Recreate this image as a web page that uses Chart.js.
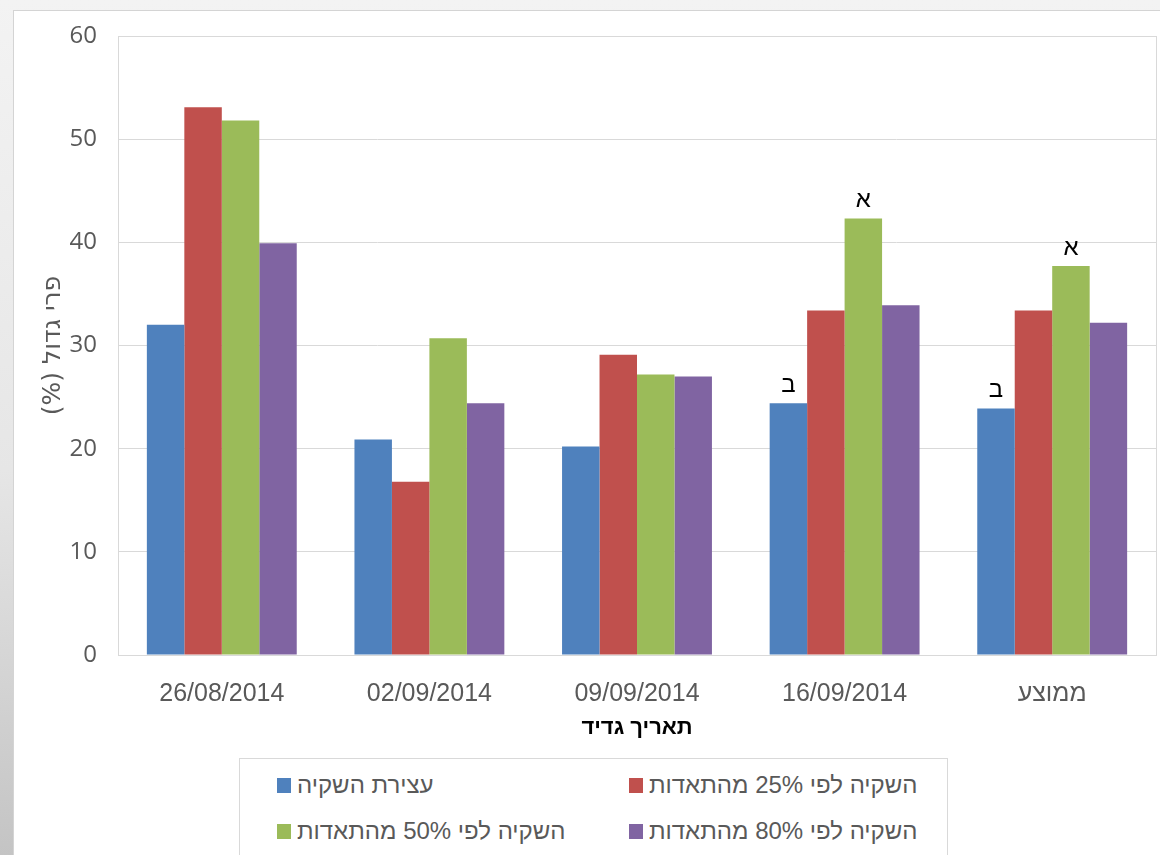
<!DOCTYPE html>
<html lang="he">
<head>
<meta charset="utf-8">
<script src="https://cdn.jsdelivr.net/npm/chart.js@4.4.1/dist/chart.umd.min.js"></script>
<style>
  html, body { margin: 0; padding: 0; }
  body {
    width: 1160px; height: 855px; overflow: hidden; position: relative;
    background: linear-gradient(to bottom, #f3f3f3 0%, #e6e6e6 55%, #c4c4c4 100%);
  }
  #frame {
    position: absolute; left: 13px; top: 10px; width: 1147px; height: 845px;
    background: #fff; border-left: 1px solid #d4d4d4; border-top: 1px solid #d4d4d4;
    box-sizing: border-box;
  }
  #frame canvas { position: absolute; left: 0; top: 0; }
  #legend {
    position: absolute; left: 225px; top: 747px; width: 709px; height: 120px;
    border: 1px solid #d9d9d9; box-sizing: border-box; background: #fff;
    font-family: 'Liberation Sans', Arial, sans-serif; font-size: 24px; color: #595959;
  }
  .item { position: absolute; display: flex; align-items: center; white-space: nowrap; }
  .item .sw { width: 14px; height: 15px; margin-right: 6px; flex: none; }
</style>
</head>
<body>
<div id="frame">
  <canvas id="c" dir="rtl"></canvas>
  <div id="legend"></div>
</div>
<script>
Chart.defaults.color = '#595959';

const CATEGORIES = ['26/08/2014', '02/09/2014', '09/09/2014', '16/09/2014', 'ממוצע'];

const STOP      = [32.0, 20.9, 20.2, 24.4, 23.9];
const EVAP_25   = [53.1, 16.8, 29.1, 33.4, 33.4];
const EVAP_50   = [51.8, 30.7, 27.2, 42.3, 37.7];
const EVAP_80   = [39.9, 24.4, 27.0, 33.9, 32.2];

// אותיות מובהקות מעל העמודות
const STOP_MARKS    = ['', '', '', 'ב', 'ב'];
const EVAP_50_MARKS = ['', '', '', 'א', 'א'];

const Y_TICKS = [0, 10, 20, 30, 40, 50, 60];

const COLORS = {
  blue:   '#4F81BD',
  red:    '#C0504D',
  green:  '#9BBB59',
  purple: '#8064A2',
  grid:   '#d9d9d9',
};

const marksPlugin = {
  id: 'marks',
  afterDatasetsDraw(chart) {
    const ctx = chart.ctx;
    ctx.save();
    ctx.font = "24px 'Liberation Sans', Arial, sans-serif";
    ctx.fillStyle = '#000';
    ctx.textAlign = 'center';
    ctx.textBaseline = 'bottom';
    chart.data.datasets.forEach((ds, di) => {
      if (!ds.marks) return;
      const meta = chart.getDatasetMeta(di);
      ds.marks.forEach((m, i) => {
        if (!m) return;
        const bar = meta.data[i];
        ctx.fillText(m, bar.x, bar.y - 6);
      });
    });
    ctx.restore();
  },
};

const framePlugin = {
  id: 'frame',
  afterDraw(chart) {
    const { ctx, chartArea: a } = chart;
    ctx.save();
    ctx.strokeStyle = COLORS.grid;
    ctx.lineWidth = 1;
    ctx.strokeRect(Math.round(a.left) + 0.5, Math.round(a.top) + 0.5,
      Math.round(a.right - a.left), Math.round(a.bottom - a.top));
    ctx.restore();
  },
};

const chart = new Chart(document.getElementById('c'), {
  type: 'bar',
  data: {
    labels: CATEGORIES,
    datasets: [
      { label: 'עצירת השקיה',            data: STOP,    backgroundColor: COLORS.blue,   marks: STOP_MARKS },
      { label: 'השקיה לפי 25% מהתאדות', data: EVAP_25, backgroundColor: COLORS.red },
      { label: 'השקיה לפי 50% מהתאדות', data: EVAP_50, backgroundColor: COLORS.green,  marks: EVAP_50_MARKS },
      { label: 'השקיה לפי 80% מהתאדות', data: EVAP_80, backgroundColor: COLORS.purple },
    ],
  },
  options: {
    responsive: true, maintainAspectRatio: false, animation: false,
    layout: { padding: { top: 25, right: 4, left: 0, bottom: 0 } },
    datasets: { bar: { categoryPercentage: 0.722, barPercentage: 1.0 } },
    plugins: { legend: { display: false }, tooltip: { enabled: false } },
    scales: {
      x: {
        grid: { display: false },
        border: { display: false },
        ticks: { color: '#595959', padding: 16, font: { family: "'Liberation Sans', Arial, sans-serif", size: 25 } },
        title: {
          display: true, text: 'תאריך גדיד', color: '#000',
          font: { family: "'Liberation Sans', Arial, sans-serif", size: 22, weight: 'bold' },
          padding: { top: 0, bottom: 114 },
        },
        afterFit: s => { s.height = 200; },
      },
      y: {
        min: 0, max: 60,
        afterBuildTicks: s => { s.ticks = Y_TICKS.map(v => ({ value: v })); },
        grid: { color: COLORS.grid, drawTicks: false },
        border: { display: false },
        ticks: { color: '#595959', padding: 21, font: { family: "'Open Sans', sans-serif", size: 24 } },
        title: {
          display: true, text: 'פרי גדול (%)', color: '#595959',
          font: { family: "'DejaVu Sans', sans-serif", size: 25 },
          padding: { top: 24, bottom: 0 },
        },
        afterFit: s => { s.width = 104; s.paddingTop = 0; s.paddingBottom = 0; },
      },
    },
  },
  plugins: [marksPlugin, framePlugin],
});

// מקרא בשתי עמודות
const legend = document.getElementById('legend');
const COL_X = [37, 389];
const ROW_Y = [12, 58];
chart.data.datasets.forEach((ds, i) => {
  const el = document.createElement('div');
  el.className = 'item';
  el.style.left = COL_X[i % 2] + 'px';
  el.style.top = ROW_Y[Math.floor(i / 2)] + 'px';
  const sw = document.createElement('span');
  sw.className = 'sw';
  sw.style.background = ds.backgroundColor;
  const tx = document.createElement('span');
  tx.textContent = ds.label;
  el.appendChild(sw);
  el.appendChild(tx);
  legend.appendChild(el);
});
</script>
</body>
</html>
